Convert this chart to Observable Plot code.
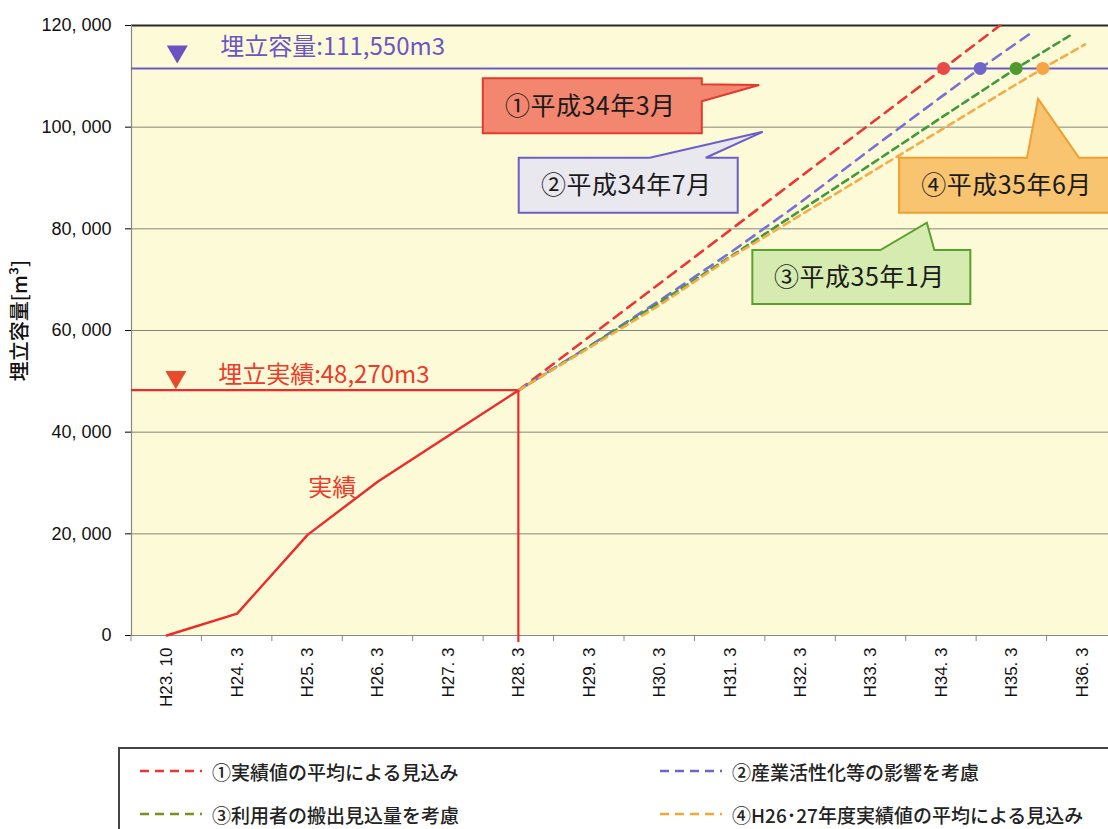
<!DOCTYPE html>
<html><head><meta charset="utf-8">
<script src="https://cdn.jsdelivr.net/npm/d3@7"></script>
<script src="https://cdn.jsdelivr.net/npm/@observablehq/plot@0.6"></script>
<style>
html,body{margin:0;padding:0;background:#fff;overflow:hidden;width:1108px;height:829px;}
#chart{position:absolute;left:0;top:0;}
#chart g[aria-label^="x-axis"] text{font-family:"Liberation Sans",Arial,sans-serif;font-size:17px;fill:#111;}
#chart g[aria-label^="y-axis"] text{font-family:"Liberation Sans",Arial,sans-serif;font-size:18px;fill:#111;}
#legend{position:absolute;left:118px;top:747px;width:1010px;height:110px;border:2px solid #444;box-sizing:border-box;font-family:"Noto Sans CJK JP",sans-serif;font-size:19px;font-weight:500;color:#222;}
.item{position:absolute;display:flex;align-items:center;height:24px;white-space:nowrap;}
.item svg{display:block;margin-right:10px;}
</style></head><body>
<div id="chart"></div><div id="legend"></div>
<script>
// ---- data ----
const categories = ["H23. 10","H24. 3","H25. 3","H26. 3","H27. 3","H28. 3","H29. 3","H30. 3","H31. 3","H32. 3","H33. 3","H34. 3","H35. 3","H36. 3"];
const actualValues = [0, 4300, 19800, 30300, 39300, 48270];
const yTickValues = [0, 20000, 40000, 60000, 80000, 100000, 120000];
const capacity = 111550;
const achieved = 48270;
const capacityLabel = "埋立容量:111,550m3";
const achievedLabel = "埋立実績:48,270m3";
const actualLabel = "実績";
const yLabel = "埋立容量[m³]";
const scenarioNames = ["①実績値の平均による見込み", "②産業活性化等の影響を考慮", "③利用者の搬出見込量を考慮", "④H26･27年度実績値の平均による見込み"];
const calloutLabels = ["①平成34年3月", "②平成34年7月", "③平成35年1月", "④平成35年6月"];
// projections: position on the category axis (index, fractional between categories) and volume
const projPos1 = [5, 11.03, 11.83];
const projVal1 = [48270, 111550, 120000];
const projPos2 = [5, 6, 7, 8, 9, 10, 11, 11.55, 12.26];
const projVal2 = [48270, 56900, 65900, 75300, 85200, 95700, 106000, 111550, 118400];
const projPos3 = [5, 6, 7, 8, 9, 10, 11, 12, 12.06, 12.87];
const projVal3 = [48270, 56800, 65500, 74500, 83600, 92700, 101900, 111000, 111550, 118400];
const projPos4 = [5, 6, 7, 8, 9, 10, 11, 12, 12.44, 13.04];
const projVal4 = [48270, 56600, 65000, 74300, 82700, 91100, 99500, 107900, 111550, 116300];
const reachPos = [11.03, 11.55, 12.06, 12.44];

// ---- styles ----
const lineColors = ["#ee3434", "#7a6fd4", "#3f9a3a", "#f5ac48"];
const dotColors = ["#e84a48", "#6f66cc", "#4f9a2c", "#f6a444"];
const legendColors = ["#ee3434", "#6a66c4", "#7a9020", "#f5a830"];
const dashes = ["10,7", "10,7", "7,5", "7,5"];

const actual = actualValues.map((v, i) => ({i, v}));
const projSets = [[projPos1, projVal1], [projPos2, projVal2], [projPos3, projVal3], [projPos4, projVal4]];
const reach = reachPos.map((p, k) => ({p, v: capacity, k}));

const callouts = [
  {fill: "#f3866f", stroke: "#e23a30", cx: 6.05, cy: 104100, w: 219, h: 55, tip: [8.42, 108200], side: "right", a: 6, b: 23},
  {fill: "#e9e8ef", stroke: "#6b5fc7", cx: 6.56, cy: 88480, w: 219, h: 55, tip: [8.47, 98990], side: "top", a: 131, b: 187},
  {fill: "#d6ebb0", stroke: "#5aa02c", cx: 9.87, cy: 70410, w: 218, h: 54, tip: [10.80, 81110], side: "top", a: 128, b: 182},
  {fill: "#f8c470", stroke: "#f0a030", cx: 11.96, cy: 88480, w: 219, h: 55, tip: [12.38, 105470], side: "top", a: 128, b: 180}
];

function annotations(index, scales) {
  const {x, y} = scales;
  const g = d3.create("svg:g");
  const y0 = y(0);
  d3.range(-0.5, categories.length, 1).forEach(b => {
    g.append("line").attr("x1", x(b)).attr("x2", x(b)).attr("y1", y0).attr("y2", y0 + 6)
      .attr("stroke", "#888").attr("stroke-width", 1);
  });
  g.append("line").attr("x1", x(actualValues.length - 1)).attr("x2", x(actualValues.length - 1))
    .attr("y1", y(achieved)).attr("y2", y0 + 7).attr("stroke", "#ee2a2a").attr("stroke-width", 2.2);
  callouts.forEach((c, k) => {
    const X = x(c.cx), Y = y(c.cy);
    const L = X - c.w / 2, R = X + c.w / 2, T = Y - c.h / 2, B = Y + c.h / 2;
    const tx = x(c.tip[0]), ty = y(c.tip[1]);
    let d;
    if (c.side === "right") {
      d = `M${L},${T}H${R}V${T + c.a}L${tx},${ty}L${R},${T + c.b}V${B}H${L}Z`;
    } else {
      d = `M${L},${T}H${L + c.a}L${tx},${ty}L${L + c.b},${T}H${R}V${B}H${L}Z`;
    }
    g.append("path").attr("d", d).attr("fill", c.fill).attr("stroke", c.stroke).attr("stroke-width", 2);
    g.append("text").attr("x", X - 2).attr("y", Y).attr("dy", "0.36em").attr("text-anchor", "middle")
      .attr("font-family", "'Noto Sans CJK JP', sans-serif").attr("font-size", 25).attr("font-weight", 400)
      .attr("letter-spacing", "0.5px").attr("fill", "#1a1a1a").text(calloutLabels[k]);
  });
  return g.node();
}

const marks = [
  Plot.frame({fill: "#fdfbd7", stroke: null}),
  Plot.ruleY(yTickValues.filter(v => v > 0 && v < 120000), {stroke: "#85857a", strokeWidth: 1}),
  Plot.ruleY([0], {stroke: "#888", strokeWidth: 1.2}),
  Plot.ruleY([120000], {stroke: "#2a2a2a", strokeWidth: 2.2}),
  Plot.ruleX([-0.5], {stroke: "#888", strokeWidth: 1.2}),
  Plot.ruleY([capacity], {stroke: "#6a5cc8", strokeWidth: 2}),
  Plot.ruleY([achieved], {x1: -0.5, x2: actualValues.length - 1, stroke: "#ee2a2a", strokeWidth: 2.2}),
  Plot.line(actual, {x: "i", y: "v", stroke: "#ee2a2a", strokeWidth: 2.4})
];
projSets.forEach(([pos, val], k) => {
  marks.push(Plot.line(pos.map((p, j) => ({p, v: val[j]})), {x: "p", y: "v", stroke: lineColors[k], strokeWidth: 2.6, strokeDasharray: dashes[k]}));
});
marks.push(
  Plot.dot(reach, {x: "p", y: "v", r: 6.5, fill: d => dotColors[d.k], stroke: null}),
  Plot.dot([{p: 0.15, v: capacity}], {x: "p", y: "v", symbol: "triangle", rotate: 180, r: 7.8, fill: "#6a52c0", dy: -17}),
  Plot.dot([{p: 0.13, v: achieved}], {x: "p", y: "v", symbol: "triangle", rotate: 180, r: 7.8, fill: "#e84a2c", dy: -13}),
  Plot.text([capacityLabel], {x: 0.76, y: capacity, text: d => d, textAnchor: "start", dy: -21, fill: "#6a56c4", fontSize: 24, fontFamily: "'Noto Sans CJK JP', sans-serif"}),
  Plot.text([achievedLabel], {x: 0.73, y: achieved, text: d => d, textAnchor: "start", dy: -15, fill: "#ee3a2a", fontSize: 24, fontFamily: "'Noto Sans CJK JP', sans-serif"}),
  Plot.text([actualLabel], {x: 2.35, y: 29000, text: d => d, fill: "#ee3a2a", fontSize: 24, fontFamily: "'Noto Sans CJK JP', sans-serif"}),
  Plot.text([yLabel], {frameAnchor: "left", text: d => d, textAnchor: "middle", rotate: -90, dx: -111, dy: -10, fill: "#111", fontSize: 20, fontWeight: 500, fontFamily: "'Noto Sans CJK JP', sans-serif"}),
  annotations
);

const chart = Plot.plot({
  width: 1108, height: 740,
  marginLeft: 131, marginRight: 0, marginTop: 25, marginBottom: 105,
  style: {fontFamily: "'Noto Sans CJK JP', sans-serif", fontSize: "17px", background: "transparent", maxWidth: "none"},
  x: {domain: [-0.5, 13.5], range: [131, 1117], ticks: d3.range(categories.length), tickFormat: i => categories[i], tickRotate: -90, tickSize: 0, tickPadding: 12, label: null},
  y: {domain: [0, 120000], ticks: yTickValues, tickFormat: d => d3.format(",")(d).replace(",", ", "), tickSize: 6, tickPadding: 14, label: null},
  marks
});
document.getElementById("chart").appendChild(chart);

// ---- legend ----
const legend = d3.select("#legend");
const spots = [[20, 10], [540, 10], [20, 53], [540, 53]];
scenarioNames.forEach((name, k) => {
  const it = legend.append("div").attr("class", "item").style("left", spots[k][0] + "px").style("top", spots[k][1] + "px");
  const s = it.append("svg").attr("width", 62).attr("height", 8);
  s.append("line").attr("x1", 0).attr("x2", 62).attr("y1", 4).attr("y2", 4)
    .attr("stroke", legendColors[k]).attr("stroke-width", 2.6).attr("stroke-dasharray", "9,6");
  it.append("span").text(name);
});
</script>
</body></html>
